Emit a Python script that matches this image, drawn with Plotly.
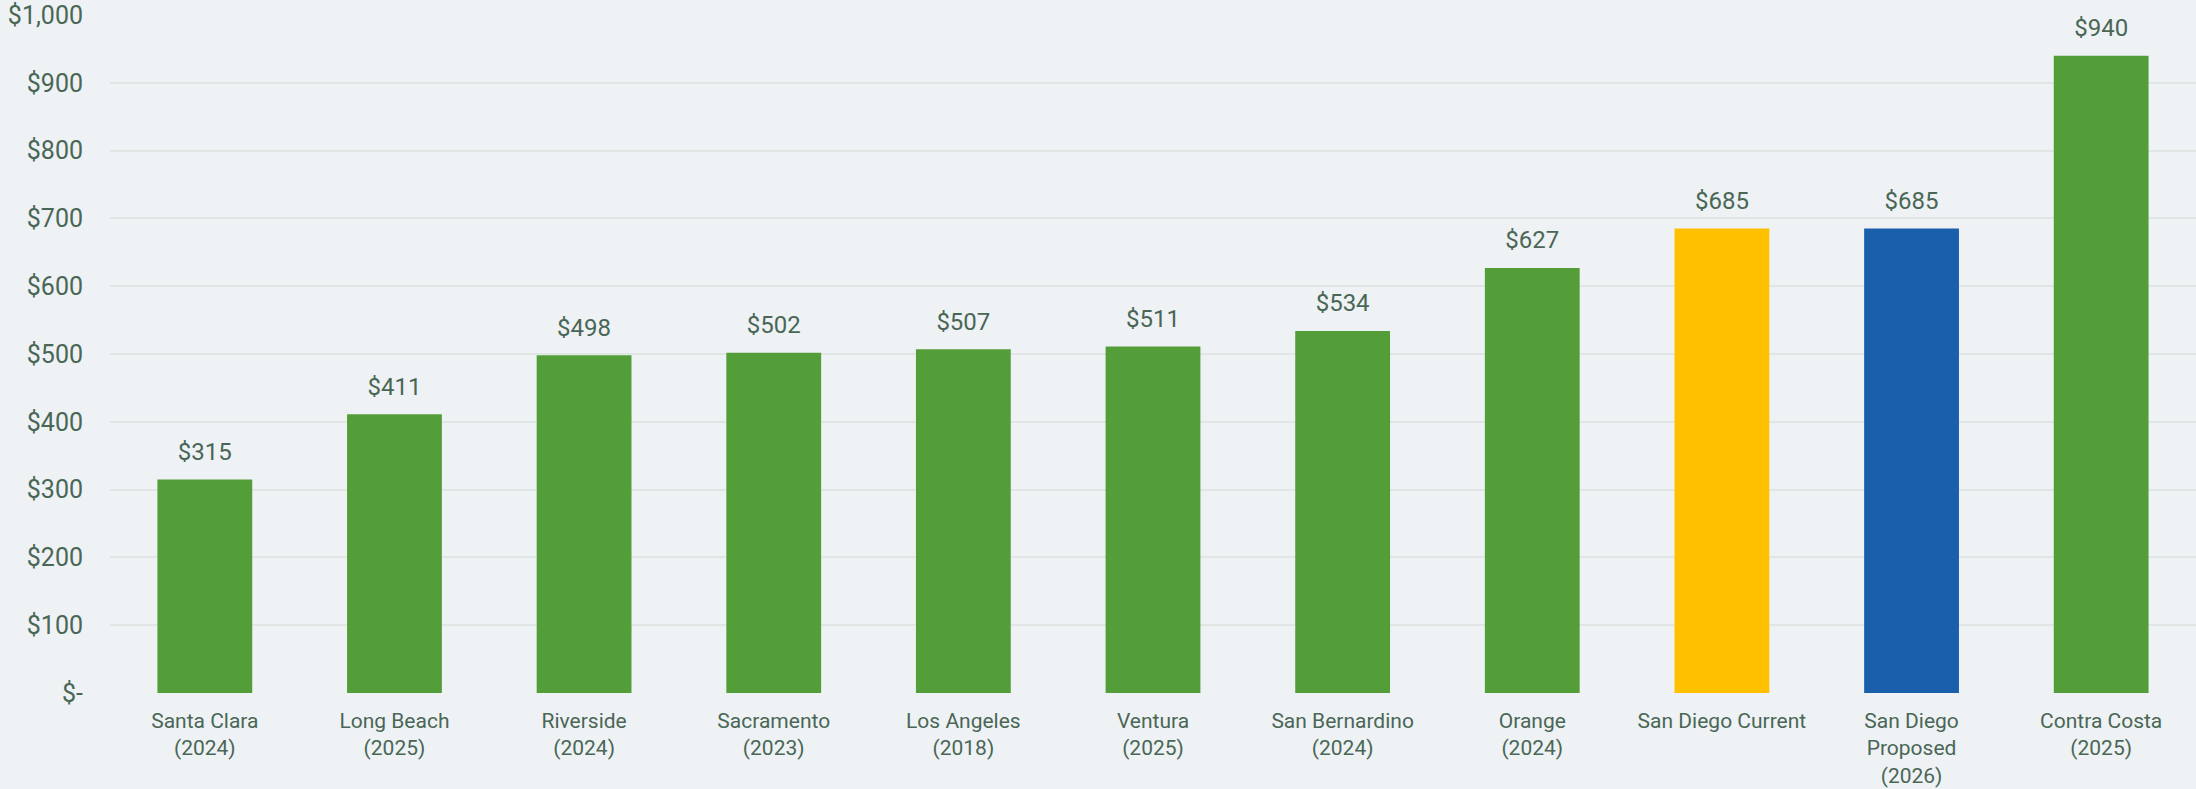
import plotly.graph_objects as go

counties = [
    "Santa Clara<br>(2024)", "Long Beach<br>(2025)", "Riverside<br>(2024)",
    "Sacramento<br>(2023)", "Los Angeles<br>(2018)", "Ventura<br>(2025)",
    "San Bernardino<br>(2024)", "Orange<br>(2024)", "San Diego Current",
    "San Diego<br>Proposed<br>(2026)", "Contra Costa<br>(2025)",
]
amounts = [315, 411, 498, 502, 507, 511, 534, 627, 685, 685, 940]
bar_colors = ["#549E39"] * 8 + ["#FFC000", "#1A5FAB", "#549E39"]

y_ticks = [0, 100, 200, 300, 400, 500, 600, 700, 800, 900, 1000]
y_labels = ["$-", "$100", "$200", "$300", "$400", "$500", "$600",
            "$700", "$800", "$900", "$1,000"]

txt = "#4A6655"
bg = "#EEF2F5"
font = "Roboto"

fig = go.Figure()
fig.add_trace(go.Bar(
    x=counties, y=amounts,
    marker=dict(color=bar_colors, line=dict(width=0)),
    width=0.5,
    hoverinfo="x+y",
))
# value labels above the bars
fig.add_trace(go.Scatter(
    x=counties, y=amounts,
    mode="markers+text",
    marker=dict(size=20, opacity=0),
    text=["$" + str(v) for v in amounts],
    textposition="top center",
    textfont=dict(family=font, size=24, color=txt),
    hoverinfo="skip",
))

fig.update_layout(
    width=2196, height=789,
    margin=dict(l=110, r=0, t=15, b=96),
    paper_bgcolor=bg, plot_bgcolor=bg,
    showlegend=False,
    bargap=0.5,
    font=dict(family=font, size=21, color=txt),
)
fig.update_xaxes(
    range=[-0.5, len(counties) - 0.5],
    showgrid=False, showline=False, zeroline=False,
    ticks="", tickfont=dict(family=font, size=21, color=txt),
    ticklabelstandoff=13, automargin=False,
)
fig.update_yaxes(
    range=[0, 1000],
    tickvals=y_ticks, ticktext=y_labels,
    showgrid=True, gridcolor="#E0E6E4", gridwidth=1.5,
    zeroline=False, showline=False,
    ticks="", ticklabelstandoff=26, automargin=False,
    tickfont=dict(family=font, size=25, color=txt),
)

fig.write_html(
    "out.html",
    config={"displayModeBar": False},
    post_script="document.body.style.margin='0';document.body.style.overflow='hidden';",
)
